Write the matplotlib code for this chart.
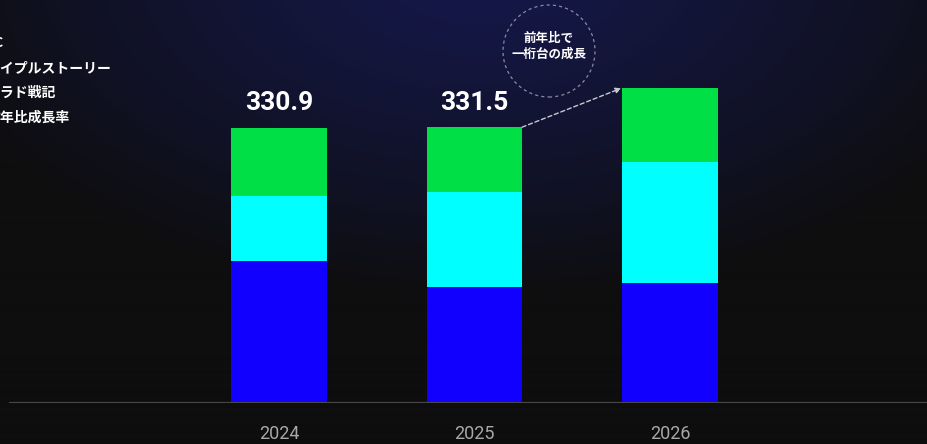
import numpy as np
import matplotlib
matplotlib.use('Agg')
import matplotlib.pyplot as plt
from matplotlib.patches import Circle

# 売上推移（3タイトル積み上げ）
years = ['2024', '2025', '2026']
fc = [170.2, 139.2, 143.9]
maple = [78.0, 113.9, 146.3]
arad = [82.7, 78.4, 88.7]
totals = [330.9, 331.5]
legend_labels = ['FC', 'メイプルストーリー', 'アラド戦記', '前年比成長率']
callout = '前年比で\n一桁台の成長'

colors = ['#1200ff', '#00ffff', '#00df46']

W, H = 928, 444
fig = plt.figure(figsize=(W / 100, H / 100), dpi=100)

# background: navy glow at the top fading to near black
bg = fig.add_axes([0, 0, 1, 1], zorder=0)
yy, xx = np.mgrid[0:H, 0:W]
d = np.sqrt(((xx - 480) / 580.0) ** 2 + ((yy + 30) / 330.0) ** 2)
t = np.clip(d, 0, 1) ** 1.2
top = np.array([0x15, 0x18, 0x4a]) / 255
bottom = np.array([0x0e, 0x0e, 0x0f]) / 255
img = top[None, None, :] * (1 - t[..., None]) + bottom[None, None, :] * t[..., None]
bg.imshow(img, aspect='auto', extent=[0, W, H, 0])
bg.axis('off')

# main axes: baseline at y=403px
base = 403
scale = 0.832
ax = fig.add_axes([0, (H - base) / H, 1, base / H], zorder=1)
ax.patch.set_alpha(0)
x = np.arange(len(years))
w = 0.486
ax.bar(x, fc, w, color=colors[0], label=legend_labels[0], zorder=2)
ax.bar(x, maple, w, bottom=fc, color=colors[1], label=legend_labels[1], zorder=2)
bottom2 = np.array(fc) + np.array(maple)
ax.bar(x, arad, w, bottom=bottom2, color=colors[2], label=legend_labels[2], zorder=2)
stack = bottom2 + np.array(arad)

ax.set_xlim(-279 / 195.5, (W - 279) / 195.5)
ax.set_ylim(0, base / scale)
ax.axhline(0, xmin=10 / W, xmax=1, color='#474747', lw=1.6, zorder=3)

for s in ax.spines.values():
    s.set_visible(False)
ax.set_yticks([])
ax.set_xticks(x)
ax.set_xticklabels(years, fontsize=13, color='#a8a8a8', family='Roboto')
ax.tick_params(axis='x', length=0, pad=15.5)

for i, v in enumerate(totals):
    ax.annotate(f'{v:.1f}', (x[i], v), xytext=(0, 9), textcoords='offset points',
                ha='center', va='bottom', fontsize=19, fontweight='bold',
                color='white', family='Roboto')

# dashed arrow from 2025 top to 2026 top
ax.annotate('', xy=(x[2] - w / 2, stack[2]), xytext=(x[1] + w / 2, stack[1]),
            arrowprops=dict(arrowstyle='-|>', color='#c8c8d0', lw=1,
                            linestyle=(0, (3, 2)), mutation_scale=8,
                            shrinkA=0, shrinkB=1))

# callout circle
circ = Circle((549 / 100, (H - 51) / 100), 0.46, transform=fig.dpi_scale_trans,
              fill=False, edgecolor='#8a8aa0', lw=0.9, linestyle=(0, (2.5, 2.5)))
fig.patches.append(circ)
fig.text(549 / W, 1 - 46 / H, callout, ha='center', va='center', fontsize=9,
         fontweight='bold', color='white', linespacing=1.3,
         family=['Noto Sans CJK JP', 'DejaVu Sans'])

# legend texts (left edge runs off the canvas)
for k, lab in enumerate(legend_labels):
    fig.text(-13.5 / W, 1 - (43 + 25 * k) / H, lab, ha='left', va='center',
             fontsize=10, fontweight='bold', color='white',
             family=['Noto Sans CJK JP', 'DejaVu Sans'])

fig.savefig('out.png', dpi=100)
